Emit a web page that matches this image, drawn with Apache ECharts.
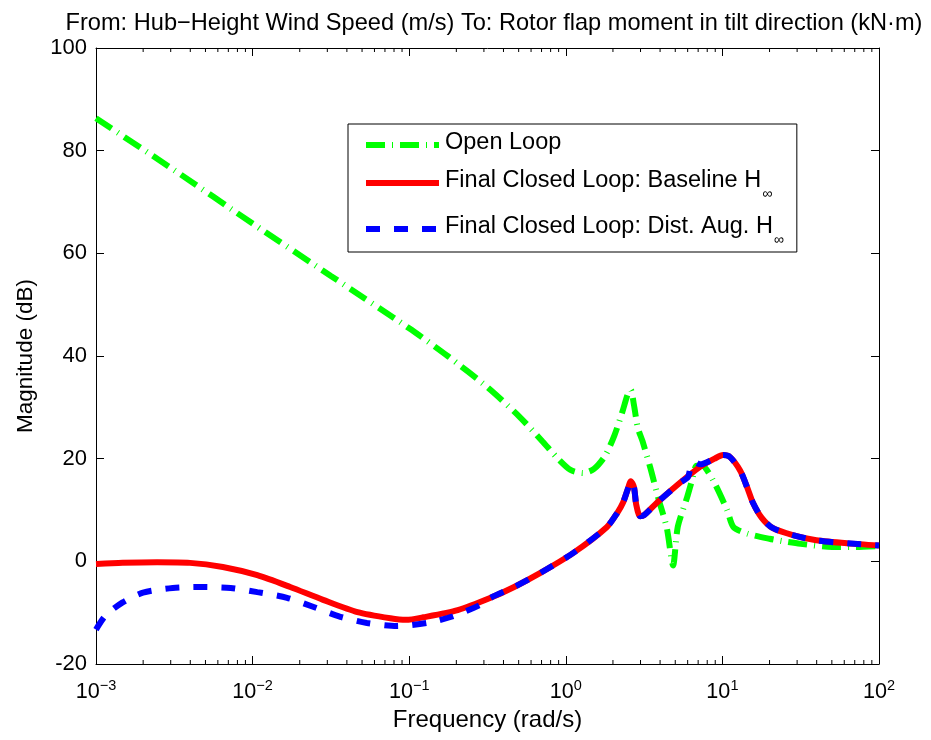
<!DOCTYPE html>
<html><head><meta charset="utf-8">
<script src="https://cdn.jsdelivr.net/npm/echarts@6/dist/echarts.min.js"></script>
<style>html,body{margin:0;padding:0;background:#fff}#c{width:931px;height:740px}</style>
</head><body><div id="c"></div>
<script>
// log10 of frequency (rad/s) and magnitude (dB)
const openLogFreq = [-3, -2.5, -2, -1.5, -1, -0.75, -0.5, -0.3, -0.15, -0.05, 0.03, 0.11, 0.18, 0.25, 0.31, 0.36, 0.395, 0.415, 0.435, 0.46, 0.49, 0.54, 0.59, 0.645, 0.685, 0.715, 0.775, 0.806, 0.835, 0.87, 0.94, 1.03, 1.07, 1.16, 1.3, 1.41, 1.5, 1.7, 1.85, 2];
const openDb =      [86.3, 76.2, 65.8, 55.6, 45.4, 39.9, 33.9, 28.3, 23.4, 20.0, 17.8, 17.2, 18.0, 20.5, 24.5, 29.0, 32.5, 33.4, 30.5, 26.0, 23.4, 18.2, 12.4, 6.5, -0.8, 6.7, 12.5, 15.8, 18.6, 18.6, 15.8, 10.0, 6.7, 5.4, 4.4, 3.8, 3.4, 2.8, 2.8, 3.0];

const baseLogFreq = [-3, -2.83, -2.61, -2.4, -2.19, -1.97, -1.76, -1.55, -1.33, -1.12, -1.02, -0.91, -0.69, -0.48, -0.33, -0.165, 0.046, 0.263, 0.33, 0.365, 0.395, 0.415, 0.435, 0.45, 0.474, 0.5, 0.582, 0.729, 0.857, 0.95, 1.004, 1.049, 1.113, 1.157, 1.195, 1.25, 1.32, 1.45, 1.6, 1.8, 2];
const baseDb =      [-0.5, -0.3, -0.2, -0.3, -1.1, -2.7, -5.0, -7.5, -9.9, -11.1, -11.4, -10.9, -9.5, -7.1, -5.0, -2.3, 1.6, 6.7, 9.5, 11.4, 14.0, 15.6, 14.5, 11.0, 8.8, 9.0, 11.4, 15.3, 18.4, 20.0, 20.7, 20.3, 17.7, 14.5, 11.4, 8.5, 6.5, 5.1, 4.1, 3.5, 3.1];

const augLogFreq = [-3, -2.94, -2.83, -2.7, -2.51, -2.34, -2.14, -1.97, -1.78, -1.61, -1.44, -1.27, -1.08, -0.886, -0.72, -0.548, -0.48, -0.33, -0.165, 0.046, 0.263, 0.33, 0.365, 0.395, 0.415, 0.435, 0.45, 0.474, 0.5, 0.582, 0.729, 0.78, 0.8, 0.82, 0.857, 0.95, 1.004, 1.049, 1.113, 1.157, 1.195, 1.25, 1.32, 1.45, 1.6, 1.8, 2];
const augDb =      [-13.3, -10.6, -8.0, -6.1, -5.2, -5.0, -5.2, -6.0, -7.1, -8.9, -10.8, -12.0, -12.6, -12.0, -10.7, -8.5, -7.1, -5.0, -2.3, 1.6, 6.7, 9.5, 11.4, 14.0, 15.6, 14.5, 11.0, 8.8, 9.0, 11.4, 15.3, 16.4, 18.8, 19.4, 18.9, 20.0, 20.7, 20.3, 17.7, 14.5, 11.4, 8.5, 6.5, 5.1, 4.1, 3.5, 3.1];

const seriesNames = ['Open Loop', 'Final Closed Loop: Baseline H\u221E', 'Final Closed Loop: Dist. Aug. H\u221E'];
const yTicks = [-20, 0, 20, 40, 60, 80, 100];
const minorTickFreqs = [];
[0.001, 0.01, 0.1, 1, 10].forEach(d => { for (let k = 2; k <= 9; k++) minorTickFreqs.push(+(d * k).toPrecision(3)); });

const toPts = (lf, db) => lf.map((l, i) => [Math.pow(10, l), db[i]]);

const FONT = 'Liberation Sans, Arial, Helvetica, sans-serif';
const chart = echarts.init(document.getElementById('c'), null, {renderer: 'canvas'});

function xLabel(v) {
  const e = Math.round(Math.log10(v));
  return '{b|10}{s|' + String(e).replace('-', '\u2212') + '}';
}

const axisCommon = {
  axisLine: {show: true, onZero: false, lineStyle: {color: '#000', width: 1}},
  axisTick: {show: true, inside: true, length: 8, lineStyle: {color: '#000', width: 1}},
  splitLine: {show: false}
};

chart.setOption({
  animation: false,
  backgroundColor: '#fff',
  title: {
    text: 'From: Hub\u2212Height Wind Speed (m/s) To: Rotor flap moment in tilt direction (kN\u00B7m)',
    left: 489, top: 6, textAlign: 'center',
    textStyle: {fontFamily: FONT, fontSize: 23.6, fontWeight: 'normal', color: '#000'}
  },
  grid: {left: 96, right: 52, top: 48, bottom: 76, containLabel: false},
  legend: {
    orient: 'vertical', left: 348, top: 124,
    data: seriesNames,
    itemWidth: 73, itemHeight: 14, itemGap: 14,
    padding: [7, 13, 5, 15],
    borderColor: '#000', borderWidth: 1, backgroundColor: '#fff',
    itemStyle: {opacity: 0},
    lineStyle: {width: 6},
    formatter: function (n) {
      const i = n.indexOf('H\u221E');
      if (i < 0) return '{m|' + n + '}';
      return '{m|' + n.slice(0, i + 1) + '}{sub|\u221E}';
    },
    textStyle: {
      fontFamily: FONT, fontSize: 23.5, color: '#000',
      rich: {
        m: {fontFamily: FONT, fontSize: 23.5, color: '#000', lineHeight: 28, verticalAlign: 'top', padding: [0, 0, 0, 1]},
        sub: {fontFamily: FONT, fontSize: 14, color: '#000', lineHeight: 14, verticalAlign: 'top', padding: [18, 0, 0, 1]}
      }
    }
  },
  xAxis: [
    Object.assign({
      type: 'log', logBase: 10, min: 0.001, max: 100, position: 'bottom',
      name: 'Frequency (rad/s)', nameLocation: 'middle', nameGap: 44,
      nameTextStyle: {fontFamily: FONT, fontSize: 24, color: '#000'},
      axisLabel: {
        formatter: xLabel, margin: 14, color: '#000',
        rich: {
          b: {fontFamily: FONT, fontSize: 21.6, color: '#000'},
          s: {fontFamily: FONT, fontSize: 14.5, color: '#000', padding: [0, 0, 14, 0]}
        }
      }
    }, axisCommon),
    Object.assign({
      type: 'log', logBase: 10, min: 0.001, max: 100, position: 'top',
      axisLabel: {show: false}
    }, axisCommon)
  ],
  yAxis: [
    Object.assign({
      type: 'value', min: -20, max: 100, interval: 20, position: 'left',
      name: 'Magnitude (dB)', nameLocation: 'middle', nameGap: 59,
      nameTextStyle: {fontFamily: FONT, fontSize: 22.5, color: '#000'},
      axisLabel: {fontFamily: FONT, fontSize: 22, color: '#000', margin: 9}
    }, axisCommon),
    Object.assign({
      type: 'value', min: -20, max: 100, interval: 20, position: 'right',
      axisLabel: {show: false}
    }, axisCommon)
  ],
  series: [
    {
      name: seriesNames[0], type: 'line', data: toPts(openLogFreq, openDb),
      showSymbol: false, symbol: 'none', smooth: 0.25, z: 2,
      lineStyle: {color: '#00ff00', width: 6, type: [19, 7, 1, 7], cap: 'butt'},
      itemStyle: {color: '#00ff00'}
    },
    {
      name: seriesNames[1], type: 'line', data: toPts(baseLogFreq, baseDb),
      showSymbol: false, symbol: 'none', smooth: 0.25, z: 3,
      lineStyle: {color: '#ff0000', width: 6, type: 'solid'},
      itemStyle: {color: '#ff0000'}
    },
    {
      name: seriesNames[2], type: 'line', data: toPts(augLogFreq, augDb),
      showSymbol: false, symbol: 'none', smooth: 0.25, z: 4,
      lineStyle: {color: '#0000ff', width: 6, type: [14, 14], cap: 'butt'},
      itemStyle: {color: '#0000ff'}
    },
    {
      name: 'minorTicks', type: 'custom', silent: true, z: 10,
      data: minorTickFreqs.map(f => [f, -20]),
      renderItem: function (params, api) {
        const b = api.coord([api.value(0), -20]);
        const t = api.coord([api.value(0), 100]);
        const st = {stroke: '#000', lineWidth: 1};
        return {type: 'group', children: [
          {type: 'line', shape: {x1: b[0], y1: b[1], x2: b[0], y2: b[1] - 4}, style: st},
          {type: 'line', shape: {x1: t[0], y1: t[1], x2: t[0], y2: t[1] + 4}, style: st}
        ]};
      },
      clip: false
    }
  ]
});
</script>
</body></html>
